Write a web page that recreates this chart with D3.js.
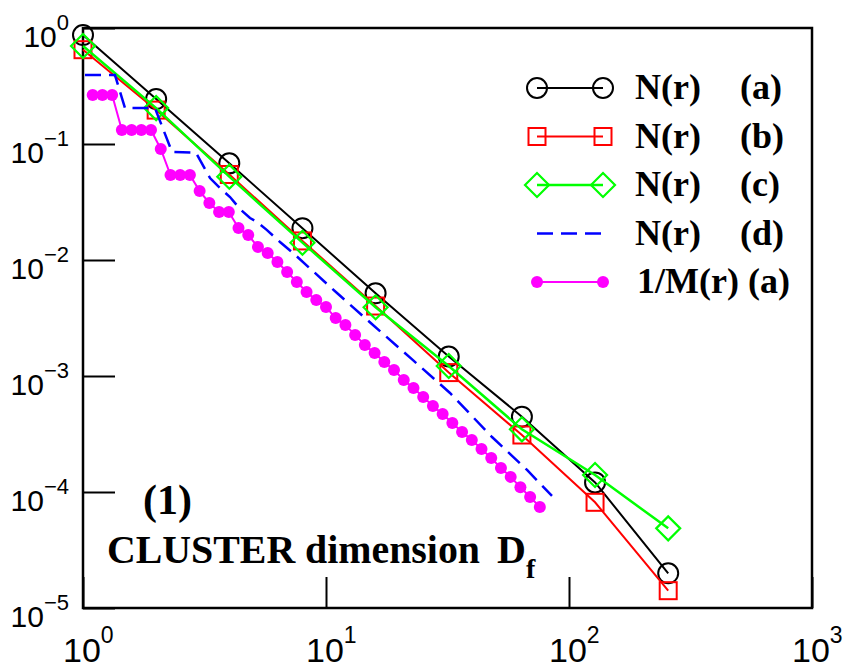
<!DOCTYPE html>
<html><head><meta charset="utf-8">
<script src="https://cdn.jsdelivr.net/npm/d3@7"></script>
<style>body{margin:0;background:#fff} svg{display:block}</style>
</head><body>
<svg id="chart" width="846" height="670"></svg>
<script>
// ---- data ----
const rGrid = [1, 2, 4, 8, 16, 32, 64, 128, 256];
const nA = [0.87, 0.244, 0.0681, 0.0188, 0.00516, 0.00147, 0.000446, 0.000121, 0.0000199];
const nB = [0.65, 0.196, 0.0546, 0.0146, 0.00401, 0.00107, 0.00031, 0.0000815, 0.0000141];
const nC = [0.70, 0.204, 0.0523, 0.0141, 0.00391, 0.00122, 0.000347, 0.00014, 0.0000486];

const rD = [1.019, 1.354, 1.489, 1.978, 2.324, 2.917, 3.332, 3.733, 4.027, 4.428, 4.867, 5.200, 5.717, 6.467, 7.314, 11.10, 15.61, 22.80, 32.38, 48.21, 67.19, 85.11];
const nD = [0.393, 0.393, 0.204, 0.204, 0.0853, 0.0840, 0.0509, 0.0401, 0.0349, 0.0275, 0.0230, 0.0213, 0.0181, 0.0143, 0.0115, 0.00519, 0.00275, 0.00137, 0.000714, 0.000298, 0.000155, 0.0000924];

const rM = [1.096, 1.202, 1.318, 1.445, 1.585, 1.738, 1.905, 2.089, 2.291, 2.512, 2.754, 3.020, 3.311, 3.631, 3.981, 4.365, 4.786, 5.248, 5.754, 6.310, 6.918, 7.586, 8.318, 9.120, 10.00, 10.96, 12.02, 13.18, 14.45, 15.85, 17.38, 19.05, 20.89, 22.91, 25.12, 27.54, 30.20, 33.11, 36.31, 39.81, 43.65, 47.86, 52.48, 57.54, 63.10, 69.18, 75.86];
const invM = [0.265, 0.265, 0.265, 0.132, 0.132, 0.132, 0.132, 0.0906, 0.054, 0.054, 0.054, 0.0393, 0.0310, 0.0259, 0.0259, 0.01887, 0.01642, 0.01295, 0.01149, 0.00961, 0.00788, 0.00646, 0.00530, 0.00452, 0.00393, 0.00316, 0.00275, 0.00226, 0.00185, 0.00158, 0.00132, 0.001126, 0.000924, 0.000788, 0.000659, 0.000551, 0.000470, 0.000393, 0.000329, 0.000281, 0.000235, 0.000196, 0.000161, 0.000135, 0.000110, 0.0000905, 0.0000742];

const xTickExps = [0, 1, 2, 3];
const yTickExps = [0, -1, -2, -3, -4, -5];
const legendNames = ["N(r)", "N(r)", "N(r)", "N(r)", "1/M(r) (a)"];
const legendTags = ["(a)", "(b)", "(c)", "(d)", ""];
const panelLabel = "(1)";
const noteText = "CLUSTER dimension";
const noteSymbol = "D";
const noteSub = "f";

// ---- layout ----
const L = 83, T = 28, R = 812, B = 608;
const svg = d3.select("#chart");
const x = d3.scaleLog().domain([1, 1000]).range([L, R]);
const y = d3.scaleLog().domain([1e-5, 1]).range([B, T]);

// ticks (inside)
const gx = svg.append("g").attr("transform", `translate(0,${B})`)
  .call(d3.axisBottom(x).tickValues(xTickExps.map(e => Math.pow(10, e))).tickSize(-31).tickSizeOuter(0).tickFormat(""));
const gy = svg.append("g").attr("transform", `translate(${L},0)`)
  .call(d3.axisLeft(y).tickValues(yTickExps.map(e => Math.pow(10, e))).tickSize(-32).tickSizeOuter(0).tickFormat(""));
[gx, gy].forEach(g => {
  g.select(".domain").remove();
  g.selectAll(".tick line").attr("stroke", "#000").attr("stroke-width", 2);
});

// frame
svg.append("rect").attr("x", L).attr("y", T).attr("width", R - L).attr("height", B - T)
  .attr("fill", "none").attr("stroke", "#000").attr("stroke-width", 2.5);

// tick labels
xTickExps.forEach(e => {
  const t = svg.append("text").attr("x", x(Math.pow(10, e)) - 20).attr("y", 662)
    .attr("font-family", "'Liberation Sans', Arial, sans-serif").attr("font-size", 34).attr("fill", "#000");
  t.append("tspan").text("10");
  t.append("tspan").attr("dy", -19).attr("font-size", 23).text(String(e));
});
yTickExps.forEach(e => {
  const t = svg.append("text").attr("x", 69).attr("y", y(Math.pow(10, e)) + 19)
    .attr("text-anchor", "end")
    .attr("font-family", "'Liberation Sans', Arial, sans-serif").attr("font-size", 30).attr("fill", "#000");
  t.append("tspan").text("10");
  t.append("tspan").attr("dy", -17).attr("font-size", 22).text(e === 0 ? "0" : "\u2212" + Math.abs(e));
});

const line = d3.line().x(d => x(d[0])).y(d => y(d[1]));

function drawMarker(g, type, cx, cy, color) {
  if (type === "circle") {
    g.append("circle").attr("cx", cx).attr("cy", cy).attr("r", 10)
      .attr("fill", "none").attr("stroke", color).attr("stroke-width", 2);
  } else if (type === "square") {
    g.append("rect").attr("x", cx - 8.5).attr("y", cy - 8.5).attr("width", 17).attr("height", 17)
      .attr("fill", "none").attr("stroke", color).attr("stroke-width", 2);
  } else if (type === "diamond") {
    g.append("path").attr("d", `M${cx - 12},${cy}L${cx},${cy - 12}L${cx + 12},${cy}L${cx},${cy + 12}Z`)
      .attr("fill", "none").attr("stroke", color).attr("stroke-width", 2.2);
  } else if (type === "dot") {
    g.append("circle").attr("cx", cx).attr("cy", cy).attr("r", 6).attr("fill", color);
  }
}

const series = [
  { r: rGrid, n: nA, color: "#000000", marker: "circle", width: 2, dash: null },
  { r: rGrid, n: nB, color: "#ff0000", marker: "square", width: 2, dash: null },
  { r: rGrid, n: nC, color: "#00ff00", marker: "diamond", width: 2.5, dash: null },
  { r: rD, n: nD, color: "#0000ff", marker: null, width: 2.5, dash: "16,8" },
  { r: rM, n: invM, color: "#ff00ff", marker: "dot", width: 2, dash: null }
];

const plot = svg.append("g");
series.forEach(s => {
  const pts = s.r.map((r, i) => [r, s.n[i]]);
  const g = plot.append("g");
  g.append("path").attr("d", line(pts)).attr("fill", "none")
    .attr("stroke", s.color).attr("stroke-width", s.width)
    .attr("stroke-dasharray", s.dash);
  if (s.marker) pts.forEach(p => drawMarker(g, s.marker, x(p[0]), y(p[1]), s.color));
});

// legend
const legY0 = 88, legDy = 48.5, lx1 = 537, lx2 = 603;
series.forEach((s, i) => {
  const ly = legY0 + i * legDy;
  const g = svg.append("g");
  g.append("line").attr("x1", lx1).attr("x2", lx2).attr("y1", ly).attr("y2", ly)
    .attr("stroke", s.color).attr("stroke-width", s.width).attr("stroke-dasharray", s.dash);
  if (s.marker) { drawMarker(g, s.marker, lx1, ly, s.color); drawMarker(g, s.marker, lx2, ly, s.color); }
  g.append("text").attr("x", i === 4 ? 637 : 635).attr("y", ly + 11)
    .attr("font-family", "'Liberation Serif', 'Times New Roman', serif").attr("font-weight", "bold")
    .attr("font-size", 36).text(legendNames[i]);
  if (legendTags[i]) {
    g.append("text").attr("x", 740).attr("y", ly + 11)
      .attr("font-family", "'Liberation Serif', 'Times New Roman', serif").attr("font-weight", "bold")
      .attr("font-size", 36).text(legendTags[i]);
  }
});

// annotations
svg.append("text").attr("x", 143).attr("y", 514)
  .attr("font-family", "'Liberation Serif', 'Times New Roman', serif").attr("font-weight", "bold")
  .attr("font-size", 42).text(panelLabel);
svg.append("text").attr("x", 107).attr("y", 563)
  .attr("font-family", "'Liberation Serif', 'Times New Roman', serif").attr("font-weight", "bold")
  .attr("font-size", 40).attr("textLength", 373).attr("lengthAdjust", "spacingAndGlyphs").text(noteText);
const dt = svg.append("text").attr("x", 497).attr("y", 563)
  .attr("font-family", "'Liberation Serif', 'Times New Roman', serif").attr("font-weight", "bold")
  .attr("font-size", 40);
dt.append("tspan").text(noteSymbol);
dt.append("tspan").attr("dy", 15).attr("font-size", 28).text(noteSub);
</script>
</body></html>
